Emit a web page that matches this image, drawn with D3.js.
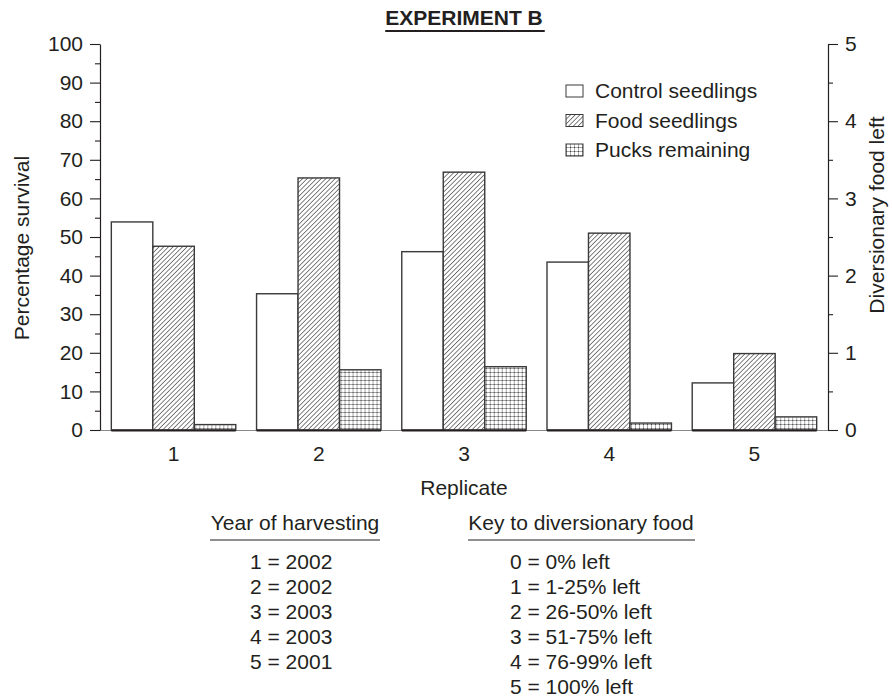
<!DOCTYPE html>
<html>
<head>
<meta charset="utf-8">
<script src="https://cdn.jsdelivr.net/npm/d3@7"></script>
<style>
  html, body { margin: 0; padding: 0; background: #fff; }
  svg { display: block; font-family: "Liberation Sans", Arial, Helvetica, sans-serif; }
</style>
</head>
<body>
<svg id="chart" width="892" height="699"></svg>
<script>
// ---- data ----
const replicates = ["1", "2", "3", "4", "5"];
const seriesNames = ["Control seedlings", "Food seedlings", "Pucks remaining"];
const controlSeedlings = [53.9, 35.3, 46.2, 43.5, 12.2];   // % survival (left axis)
const foodSeedlings = [47.6, 65.3, 66.8, 51.0, 19.8];      // % survival (left axis)
const pucksRemaining = [0.07, 0.78, 0.82, 0.09, 0.17];     // diversionary food left (right axis)
const leftTicks = [0, 10, 20, 30, 40, 50, 60, 70, 80, 90, 100];
const leftMinorTicks = [5, 15, 25, 35, 45, 55, 65, 75, 85, 95];
const rightTicks = [0, 1, 2, 3, 4, 5];
const rightMinorTicks = [0.5, 1.5, 2.5, 3.5, 4.5];
const titleText = "EXPERIMENT B";
const xLabel = "Replicate";
const yLeftLabel = "Percentage survival";
const yRightLabel = "Diversionary food left";
const yearTitle = "Year of harvesting";
const yearLines = ["1 = 2002", "2 = 2002", "3 = 2003", "4 = 2003", "5 = 2001"];
const keyTitle = "Key to diversionary food";
const keyLines = ["0 = 0% left", "1 = 1-25% left", "2 = 26-50% left", "3 = 51-75% left", "4 = 76-99% left", "5 = 100% left"];

// ---- layout ----
const svg = d3.select("#chart");
const plotL = 100, plotR = 828, plotT = 44, plotB = 430;
const FS = 21;
const ink = "#231f20";

const defs = svg.append("defs");
// diagonal hatch
const hs = 3.3;
const hatch = defs.append("pattern").attr("id", "hatch").attr("patternUnits", "userSpaceOnUse")
  .attr("width", hs).attr("height", hs).attr("patternTransform", "rotate(45)");
hatch.append("rect").attr("width", hs).attr("height", hs).attr("fill", "#fff");
hatch.append("line").attr("x1", 0).attr("y1", 0).attr("x2", 0).attr("y2", hs)
  .attr("stroke", "#444").attr("stroke-width", 1.35);
// dotted grid
const grid = defs.append("pattern").attr("id", "grid").attr("patternUnits", "userSpaceOnUse")
  .attr("width", 4).attr("height", 4);
grid.append("rect").attr("width", 4).attr("height", 4).attr("fill", "#fff");
grid.append("rect").attr("x", 0).attr("y", 0).attr("width", 4).attr("height", 1).attr("fill", "#a8a8a8");
grid.append("rect").attr("x", 0).attr("y", 0).attr("width", 1).attr("height", 4).attr("fill", "#a8a8a8");
grid.append("rect").attr("x", 0).attr("y", 0).attr("width", 1).attr("height", 1).attr("fill", "#444");

const fills = { "Control seedlings": "#fff", "Food seedlings": "url(#hatch)", "Pucks remaining": "url(#grid)" };

// ---- scales ----
const x0 = d3.scaleBand().domain(replicates).range([plotL, plotR]).paddingInner(0.143).paddingOuter(0.078);
const x1 = d3.scaleBand().domain(seriesNames).range([0, x0.bandwidth()]).padding(0);
const yL = d3.scaleLinear().domain([0, 100]).range([plotB, plotT]);
const yR = d3.scaleLinear().domain([0, 5]).range([plotB, plotT]);

// ---- baseline ----
svg.append("line").attr("x1", plotL).attr("x2", plotR).attr("y1", plotB + 0.5).attr("y2", plotB + 0.5)
  .attr("stroke", "#8a8a8a").attr("stroke-width", 1);

// ---- bars ----
const rows = replicates.map((r, i) => ({ r, vals: [
  { s: "Control seedlings", v: controlSeedlings[i], sc: yL },
  { s: "Food seedlings", v: foodSeedlings[i], sc: yL },
  { s: "Pucks remaining", v: pucksRemaining[i], sc: yR }
]}));
const groups = svg.append("g").selectAll("g").data(rows).join("g")
  .attr("transform", d => `translate(${x0(d.r)},0)`);
groups.selectAll("rect").data(d => d.vals).join("rect")
  .attr("x", d => x1(d.s))
  .attr("width", x1.bandwidth())
  .attr("y", d => d.sc(d.v))
  .attr("height", d => plotB - d.sc(d.v))
  .attr("fill", d => fills[d.s])
  .attr("stroke", "#3a3a3a").attr("stroke-width", 1.4);
// dark bottom edge of each group
groups.append("line").attr("x1", 0).attr("x2", x0.bandwidth()).attr("y1", plotB + 0.5).attr("y2", plotB + 0.5)
  .attr("stroke", ink).attr("stroke-width", 2);

// ---- axes ----
function styleAxis(g) {
  g.selectAll("path.domain").attr("stroke", ink).attr("stroke-width", 1.2);
  g.selectAll(".tick line").attr("stroke", ink).attr("stroke-width", 1.1);
  g.selectAll(".tick text").attr("fill", ink).style("font-size", FS + "px")
    .style("font-family", "'Liberation Sans', Arial, sans-serif");
}
const gL = svg.append("g").attr("transform", `translate(${plotL},0)`)
  .call(d3.axisLeft(yL).tickValues(leftTicks).tickSize(10).tickSizeOuter(0).tickPadding(7));
styleAxis(gL);
const gLm = svg.append("g").attr("transform", `translate(${plotL},0)`)
  .call(d3.axisLeft(yL).tickValues(leftMinorTicks).tickSize(5).tickFormat(""));
gLm.select("path.domain").remove(); styleAxis(gLm);

const gR = svg.append("g").attr("transform", `translate(${plotR},0)`)
  .call(d3.axisRight(yR).tickValues(rightTicks).tickSize(10).tickSizeOuter(0).tickPadding(7).tickFormat(d3.format("d")));
styleAxis(gR);
const gRm = svg.append("g").attr("transform", `translate(${plotR},0)`)
  .call(d3.axisRight(yR).tickValues(rightMinorTicks).tickSize(5).tickFormat(""));
gRm.select("path.domain").remove(); styleAxis(gRm);

const gX = svg.append("g").attr("transform", `translate(0,${plotB})`)
  .call(d3.axisBottom(x0).tickSize(0).tickPadding(16));
gX.select("path.domain").remove(); styleAxis(gX);

// ---- titles / labels ----
const tt = svg.append("text").attr("x", (plotL + plotR) / 2).attr("y", 25).attr("text-anchor", "middle")
  .attr("fill", ink).style("font-size", "21px").style("font-weight", "bold").text(titleText);
const tb = tt.node().getBBox();
svg.append("line").attr("x1", tb.x).attr("x2", tb.x + tb.width + 2).attr("y1", 31).attr("y2", 31)
  .attr("stroke", ink).attr("stroke-width", 2);

svg.append("text").attr("x", (plotL + plotR) / 2).attr("y", 495).attr("text-anchor", "middle")
  .attr("fill", ink).style("font-size", FS + "px").text(xLabel);
svg.append("text").attr("transform", "translate(29,248) rotate(-90)").attr("text-anchor", "middle")
  .attr("fill", ink).style("font-size", FS + "px").text(yLeftLabel);
svg.append("text").attr("transform", "translate(884,215) rotate(-90)").attr("text-anchor", "middle")
  .attr("fill", ink).style("font-size", FS + "px").text(yRightLabel);

// ---- legend ----
const leg = svg.append("g").attr("transform", "translate(566,80)");
const li = leg.selectAll("g").data(seriesNames).join("g").attr("transform", (d, i) => `translate(0,${i * 29.5})`);
li.append("rect").attr("x", 0).attr("y", 5).attr("width", 17).attr("height", 12)
  .attr("fill", d => fills[d]).attr("stroke", "#3a3a3a").attr("stroke-width", 1);
li.append("text").attr("x", 29).attr("y", 18).attr("fill", ink).style("font-size", FS + "px").text(d => d);

// ---- bottom keys ----
svg.append("text").attr("x", 295).attr("y", 530).attr("text-anchor", "middle")
  .attr("fill", ink).style("font-size", FS + "px").text(yearTitle);
svg.append("line").attr("x1", 210).attr("x2", 380).attr("y1", 540).attr("y2", 540).attr("stroke", ink).attr("stroke-width", 1.2);
svg.append("g").selectAll("text").data(yearLines).join("text")
  .attr("x", 250).attr("y", (d, i) => 569 + i * 25).attr("fill", ink).style("font-size", FS + "px").text(d => d);

svg.append("text").attr("x", 581).attr("y", 530).attr("text-anchor", "middle")
  .attr("fill", ink).style("font-size", FS + "px").text(keyTitle);
svg.append("line").attr("x1", 468).attr("x2", 695).attr("y1", 540).attr("y2", 540).attr("stroke", ink).attr("stroke-width", 1.2);
svg.append("g").selectAll("text").data(keyLines).join("text")
  .attr("x", 510).attr("y", (d, i) => 569 + i * 25).attr("fill", ink).style("font-size", FS + "px").text(d => d);
</script>
</body>
</html>
